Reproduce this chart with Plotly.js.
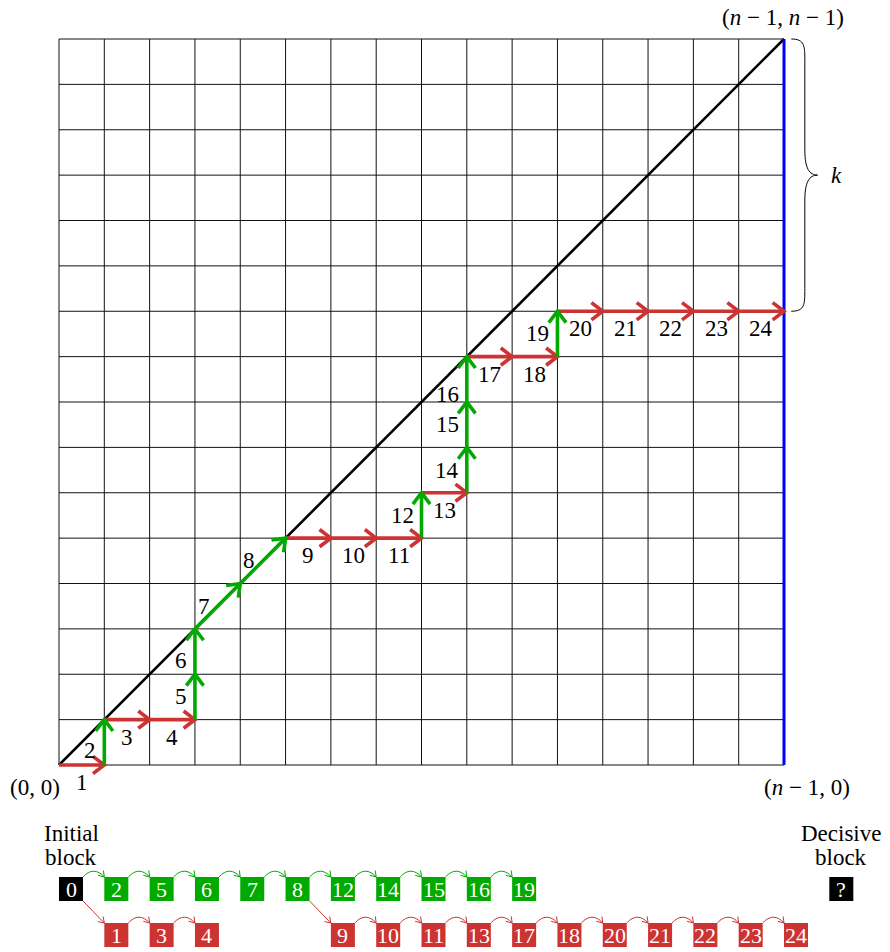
<!DOCTYPE html>
<html><head><meta charset="utf-8">
<script src="https://cdn.plot.ly/plotly-3.0.1.min.js"></script>
<style>body{margin:0;background:#fff}</style>
</head><body><div id="chart" style="width:890px;height:952px"></div>
<script>
// ---------- data ----------
// lattice path vertices; step i goes from vertex i-1 to vertex i
const pathX = [0,1,1,2,3,3,3,4,5,6,7,8,8,9,9,9,9,10,11,11,12,13,14,15,16];
const pathY = [0,0,1,1,1,2,3,4,5,5,5,5,6,6,7,8,9,9,9,10,10,10,10,10,10];
const stepLabels = ['1','2','3','4','5','6','7','8','9','10','11','12','13','14','15','16','17','18','19','20','21','22','23','24'];
const gridSize = 16;
const braceFrom = 10;           // k spans rows braceFrom .. gridSize
const initialBlock = '0';
const decisiveBlock = '?';
const greenBlocks = ['2','5','6','7','8','12','14','15','16','19'];
const redChains = [['1','3','4'], ['9','10','11','13','17','18','20','21','22','23','24']];
const redChainParents = ['0','8'];
const cornerLabels = ['(0, 0)', '(<i>n</i> − 1, 0)', '(<i>n</i> − 1, <i>n</i> − 1)'];
const braceLabel = '<i>k</i>';
const blockTitles = [['Initial', 'block'], ['Decisive', 'block']];

// ---------- style ----------
const RED = '#cc3333', GREEN = '#00aa00', BLUE = '#0000ff';
const FONT = 'Liberation Serif';
const FS = 23, BFS = 22;
const labelShift = {'2': -0.18, '6': -0.2, '16': -0.33};

const traces = [];
const shapes = [];
const annotations = [];

// grid
const gx = [], gy = [];
for (let i = 0; i <= gridSize; i++) {
  gx.push(i, i, null); gy.push(0, gridSize, null);
  gx.push(0, gridSize, null); gy.push(i, i, null);
}
traces.push({x: gx, y: gy, mode: 'lines', line: {color: '#111', width: 1}, hoverinfo: 'skip'});
// diagonal
traces.push({x: [0, gridSize], y: [0, gridSize], mode: 'lines', line: {color: '#000', width: 2.6}, hoverinfo: 'skip'});
// blue border
traces.push({x: [gridSize, gridSize], y: [0, gridSize], mode: 'lines', line: {color: BLUE, width: 3}, hoverinfo: 'skip'});

// path steps
const seg = {red: {x: [], y: []}, green: {x: [], y: []}};
for (let i = 1; i < pathX.length; i++) {
  const x0 = pathX[i-1], y0 = pathY[i-1], x1 = pathX[i], y1 = pathY[i];
  const dx = x1 - x0, dy = y1 - y0, L = Math.hypot(dx, dy);
  const ux = dx / L, uy = dy / L, nx = -uy, ny = ux;
  const s = dy > 0 ? seg.green : seg.red;
  s.x.push(x0, x1, null); s.y.push(y0, y1, null);
  const b = 0.25, w = 0.19;
  s.x.push(x1 - b*ux + w*nx, x1, x1 - b*ux - w*nx, null);
  s.y.push(y1 - b*uy + w*ny, y1, y1 - b*uy - w*ny, null);
  const lab = stepLabels[i-1];
  const mx = (x0 + x1) / 2, my = (y0 + y1) / 2;
  if (dy === 0) {
    annotations.push({x: mx, y: my - 0.39, text: lab, xanchor: 'center', yanchor: 'middle'});
  } else {
    annotations.push({x: mx, y: my + (labelShift[lab] || 0), text: lab, xanchor: 'right', yanchor: 'middle', xshift: -6});
  }
}
traces.push({x: seg.red.x, y: seg.red.y, mode: 'lines', line: {color: RED, width: 3.6}, hoverinfo: 'skip'});
traces.push({x: seg.green.x, y: seg.green.y, mode: 'lines', line: {color: GREEN, width: 3.6}, hoverinfo: 'skip'});

// corner labels, brace
annotations.push({x: -0.53, y: -0.49, text: cornerLabels[0]});
annotations.push({x: gridSize + 0.5, y: -0.49, text: cornerLabels[1]});
annotations.push({x: gridSize - 0.02, y: gridSize + 0.48, text: cornerLabels[2]});
annotations.push({x: gridSize + 1.15, y: (braceFrom + gridSize) / 2, text: braceLabel});
const bx0 = gridSize + 0.16, bx1 = gridSize + 0.46, bt = gridSize + 0.74, ym = (braceFrom + gridSize) / 2;
shapes.push({type: 'path', xref: 'x', yref: 'y', line: {color: '#000', width: 1},
  path: `M ${bx0},${gridSize} C ${bx1},${gridSize} ${bx1},${gridSize-0.15} ${bx1},${gridSize-0.5} L ${bx1},${ym+0.55} C ${bx1},${ym+0.15} ${bx1+0.1},${ym} ${bt},${ym} C ${bx1+0.1},${ym} ${bx1},${ym-0.15} ${bx1},${ym-0.55} L ${bx1},${braceFrom+0.5} C ${bx1},${braceFrom+0.15} ${bx1},${braceFrom} ${bx0},${braceFrom}`});

// blocks
const BW = 0.53, BH = 0.53;
const gTop = -2.468, rTop = -3.482;
const col = {};
function box(label, c, top, color) {
  shapes.push({type: 'rect', xref: 'x', yref: 'y', x0: c, x1: c + BW, y0: top - BH, y1: top, fillcolor: color, line: {width: 0}});
  annotations.push({x: c + BW/2, y: top - BH/2, text: label, font: {family: FONT, size: BFS, color: '#fff'}});
}
function arrowHead(tx, ty, ux, uy, color) {
  const L = Math.hypot(ux, uy); ux /= L; uy /= L;
  const nx = -uy, ny = ux, b = 0.12, w = 0.08;
  shapes.push({type: 'path', xref: 'x', yref: 'y', line: {color: color, width: 1},
    path: `M ${tx - b*ux + w*nx},${ty - b*uy + w*ny} L ${tx},${ty} L ${tx - b*ux - w*nx},${ty - b*uy - w*ny}`});
}
function arc(c0, c1, top, color) {
  const x0 = c0 + BW, x1 = c1, h = 0.17;
  shapes.push({type: 'path', xref: 'x', yref: 'y', line: {color: color, width: 1},
    path: `M ${x0},${top} C ${x0+0.15},${top+h} ${x1-0.15},${top+h} ${x1},${top}`});
  arrowHead(x1, top, 0.15, -h, color);
}
box(initialBlock, 0, gTop, '#000');
col[initialBlock] = 0;
let prev = initialBlock;
greenBlocks.forEach((b, j) => {
  const c = j + 1; col[b] = c;
  box(b, c, gTop, GREEN);
  arc(col[prev], c, gTop, GREEN);
  prev = b;
});
redChains.forEach((chain, ci) => {
  const pc = col[redChainParents[ci]];
  chain.forEach((b, j) => {
    const c = pc + 1 + j;
    box(b, c, rTop, RED);
    if (j === 0) {
      const sx = pc + BW, sy = gTop - BH;
      shapes.push({type: 'line', xref: 'x', yref: 'y', x0: sx, y0: sy, x1: c, y1: rTop, line: {color: RED, width: 1}});
      arrowHead(c, rTop, c - sx, rTop - sy, RED);
    } else {
      arc(c - 1, c, rTop, RED);
    }
  });
});
box(decisiveBlock, gridSize + 1, gTop, '#000');
[[0, blockTitles[0]], [gridSize + 1, blockTitles[1]]].forEach(([c, lines]) => {
  annotations.push({x: c + BW/2, y: -1.50, text: lines[0]});
  annotations.push({x: c + BW/2, y: -2.03, text: lines[1]});
});

annotations.forEach(a => {
  a.showarrow = false;
  a.xref = 'x'; a.yref = 'y';
  if (!a.font) a.font = {family: FONT, size: FS, color: '#000'};
  if (!a.xanchor) a.xanchor = 'center';
  if (!a.yanchor) a.yanchor = 'middle';
});

const layout = {
  width: 890, height: 952,
  margin: {l: 0, r: 0, t: 0, b: 0},
  paper_bgcolor: '#fff', plot_bgcolor: '#fff',
  showlegend: false,
  font: {family: FONT, size: FS},
  xaxis: {range: [-59/45.3125, (890-59)/45.3125], visible: false, fixedrange: true},
  yaxis: {range: [(765-952)/45.375, 765/45.375], visible: false, fixedrange: true},
  shapes: shapes,
  annotations: annotations,
  hovermode: false
};
Plotly.newPlot('chart', traces, layout, {displayModeBar: false, staticPlot: true});
</script></body></html>
